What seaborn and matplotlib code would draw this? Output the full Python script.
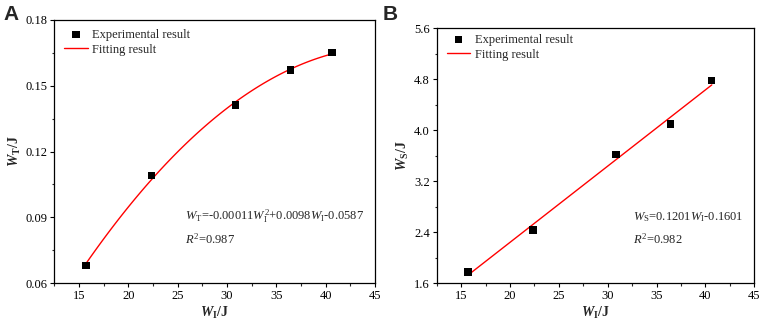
import numpy as np
import pandas as pd
import matplotlib
matplotlib.use("Agg")
import matplotlib.pyplot as plt
import seaborn as sns

# ---- data ----
w_i = [15.7, 22.35, 30.85, 36.45, 40.65]
w_t = [0.068, 0.1092, 0.1412, 0.1572, 0.1652]
w_s = [1.78, 2.44, 3.62, 4.10, 4.78]

xticks = [15, 20, 25, 30, 35, 40, 45]
yticks_a = [0.06, 0.09, 0.12, 0.15, 0.18]
yticks_b = [1.6, 2.4, 3.2, 4.0, 4.8, 5.6]

eq_a = r"$W_\mathrm{T}$=-0.00011$W_\mathrm{I}^2$+0.0098$W_\mathrm{I}$-0.0587"
r2_a = r"$R^2$=0.987"
eq_b = r"$W_\mathrm{S}$=0.1201$W_\mathrm{I}$-0.1601"
r2_b = r"$R^2$=0.982"

sns.set_style("ticks")
plt.rcParams["font.family"] = ["Liberation Serif", "DejaVu Serif"]
plt.rcParams["mathtext.fontset"] = "custom"
plt.rcParams["mathtext.rm"] = "Liberation Serif"
plt.rcParams["mathtext.it"] = "Liberation Serif:italic"
plt.rcParams["mathtext.bf"] = "Liberation Serif:bold"
plt.rcParams["mathtext.bfit"] = "Liberation Serif:italic:bold"

df = pd.DataFrame({"WI": w_i, "WT": w_t, "WS": w_s})

fig = plt.figure(figsize=(7.61, 3.25), dpi=100)
ax_a = fig.add_axes([0.0714, 0.129, 0.4214, 0.8095])
ax_b = fig.add_axes([0.5739, 0.128, 0.4173, 0.7848])


def draw(ax, ycol, order, yticks, ylabel, eq, r2, tx, ty1, ty2, leg_y):
    sns.scatterplot(data=df, x="WI", y=ycol, ax=ax, marker="s", color="black",
                    edgecolor="none", s=28, label="Experimental result", zorder=3)
    sns.regplot(data=df, x="WI", y=ycol, ax=ax, order=order, ci=None, scatter=False,
                label="Fitting result", line_kws=dict(color="red", lw=1.0))
    ax.set_xlim(12.5, 45)
    ax.set_ylim(yticks[0], yticks[-1])
    ax.set_xticks(xticks)
    ax.set_yticks(yticks)
    ax.set_yticklabels([f"{v:.2f}" if yticks[0] < 1 else f"{v:.1f}" for v in yticks])
    ax.set_xticks([12.5 + 5 * k for k in range(7)], minor=True)
    mids = [(yticks[k] + yticks[k + 1]) / 2 for k in range(len(yticks) - 1)]
    ax.set_yticks(mids, minor=True)
    ax.tick_params(axis="both", which="major", direction="out", length=3, width=0.8,
                   labelsize=9, colors="black", pad=2)
    ax.tick_params(axis="both", which="minor", direction="out", length=1.8, width=0.8)
    for sp in ax.spines.values():
        sp.set_visible(True)
        sp.set_linewidth(0.9)
        sp.set_color("black")
    ax.set_xlabel(r"$\mathbfit{W}_\mathbf{I}$/J", fontsize=10, fontweight="bold", labelpad=2)
    ax.set_ylabel(ylabel, fontsize=10, fontweight="bold", labelpad=2)
    h, l = ax.get_legend_handles_labels()
    order_idx = [l.index("Experimental result"), l.index("Fitting result")]
    ax.legend([h[i] for i in order_idx], [l[i] for i in order_idx], loc="upper left",
              frameon=False, fontsize=9, handlelength=1.9, handletextpad=0.35,
              borderaxespad=0.0, labelspacing=0.22, bbox_to_anchor=(0.015, leg_y))
    ax.text(tx, ty1, eq, transform=ax.transAxes, fontsize=9, va="center")
    ax.text(tx, ty2, r2, transform=ax.transAxes, fontsize=9, va="center")


draw(ax_a, "WT", 2, yticks_a, r"$\mathbfit{W}_\mathbf{T}$/J", eq_a, r2_a, 0.408, 0.253, 0.165, 0.985)
draw(ax_b, "WS", 1, yticks_b, r"$\mathbfit{W}_\mathbf{S}$/J", eq_b, r2_b, 0.618, 0.258, 0.172, 0.998)

fig.text(0.004, 0.985, "A", fontsize=15, fontweight="bold", family="Liberation Sans", va="top")
fig.text(0.503, 0.985, "B", fontsize=15, fontweight="bold", family="Liberation Sans", va="top")

fig.savefig("out.png", dpi=100)
